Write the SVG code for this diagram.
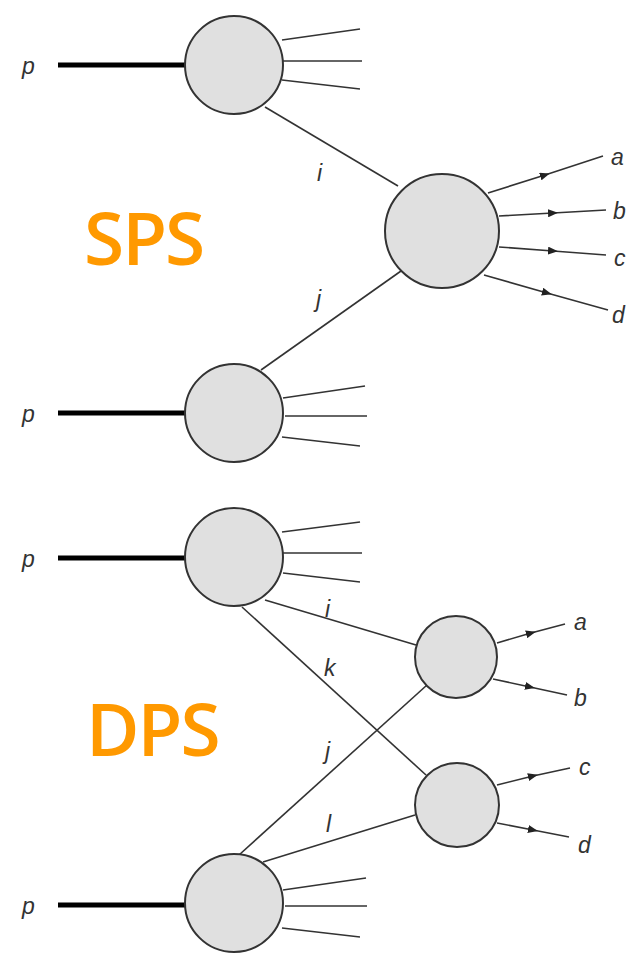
<svg xmlns="http://www.w3.org/2000/svg" width="629" height="953" viewBox="0 0 629 953">
<style>
.blob{fill:#e0e0e0;stroke:#333;stroke-width:2}
.beam{stroke:#000;stroke-width:5;fill:none}
.ln{stroke:#333;stroke-width:1.6;fill:none}
.arr{stroke:#333;stroke-width:1.6;fill:none;marker-mid:url(#ah)}
.lbl{font-family:"Liberation Sans",Arial,sans-serif;font-style:italic;font-size:23px;fill:#333}
.big{font-family:"Open Sans","Noto Sans",sans-serif;font-size:73px;font-weight:600;fill:#ff9900;letter-spacing:-2px}
</style>
<defs>
<marker id="ah" viewBox="0 0 10 8" refX="5" refY="4" markerWidth="10" markerHeight="8" markerUnits="userSpaceOnUse" orient="auto">
<path d="M0,0 L10,4 L0,8 Z" fill="#222"/>
</marker>
</defs>
<text class="big" x="84" y="265">SPS</text>
<text class="big" x="86" y="756">DPS</text>
<g id="connectors">
<line class="ln" x1="265" y1="107" x2="398" y2="186"/>
<line class="ln" x1="261" y1="370" x2="401" y2="271"/>
<polyline class="arr" points="488,193 545,175 603,156"/>
<polyline class="arr" points="499,216 553,213 606,210"/>
<polyline class="arr" points="499,247 553,251 606,255"/>
<polyline class="arr" points="484,275 547,293 608,310"/>
<line class="ln" x1="265" y1="600" x2="416" y2="645"/>
<line class="ln" x1="242" y1="607" x2="426" y2="775"/>
<line class="ln" x1="239" y1="855" x2="427" y2="685"/>
<line class="ln" x1="263" y1="862" x2="415" y2="815"/>
<polyline class="arr" points="497,643 531,633 565,624"/>
<polyline class="arr" points="493,679 530,687 567,695"/>
<polyline class="arr" points="497,785 533,776 570,768"/>
<polyline class="arr" points="497,823 533,830 569,837"/>
</g>
<text class="lbl" x="317" y="181">i</text>
<text class="lbl" x="316" y="307">j</text>
<text class="lbl" x="325" y="617">i</text>
<text class="lbl" x="324" y="676">k</text>
<text class="lbl" x="325" y="759">j</text>
<text class="lbl" x="326" y="832">l</text>
<text class="lbl" x="611" y="165">a</text>
<text class="lbl" x="613" y="219">b</text>
<text class="lbl" x="614" y="266">c</text>
<text class="lbl" x="612" y="323">d</text>
<text class="lbl" x="574" y="630">a</text>
<text class="lbl" x="574" y="706">b</text>
<text class="lbl" x="579" y="775">c</text>
<text class="lbl" x="578" y="853">d</text>
<g id="p1">
<text class="lbl" x="22" y="74">p</text>
<line class="beam" x1="58" y1="65" x2="186" y2="65"/>
<line class="ln" x1="282" y1="40" x2="360" y2="29"/>
<line class="ln" x1="283" y1="61" x2="362" y2="61"/>
<line class="ln" x1="282" y1="80" x2="360" y2="89"/>
<circle class="blob" cx="234" cy="65" r="49"/>
</g>
<g id="hard">
<circle class="blob" cx="442" cy="231" r="57"/>
</g>
<g id="p2">
<text class="lbl" x="22" y="422">p</text>
<line class="beam" x1="58" y1="413" x2="186" y2="413"/>
<line class="ln" x1="283" y1="398" x2="365" y2="386"/>
<line class="ln" x1="285" y1="416" x2="367" y2="416"/>
<line class="ln" x1="282" y1="437" x2="360" y2="446"/>
<circle class="blob" cx="234" cy="413" r="49"/>
</g>
<g id="p3">
<text class="lbl" x="22" y="567">p</text>
<line class="beam" x1="58" y1="558" x2="186" y2="558"/>
<line class="ln" x1="282" y1="532" x2="360" y2="522"/>
<line class="ln" x1="283" y1="553" x2="362" y2="553"/>
<line class="ln" x1="283" y1="573" x2="360" y2="582"/>
<circle class="blob" cx="234" cy="557" r="49"/>
</g>
<g id="hardA">
<circle class="blob" cx="456" cy="657" r="41"/>
</g>
<g id="hardB">
<circle class="blob" cx="457" cy="805" r="42"/>
</g>
<g id="p4">
<text class="lbl" x="22" y="914">p</text>
<line class="beam" x1="58" y1="905" x2="186" y2="905"/>
<line class="ln" x1="283" y1="890" x2="366" y2="878"/>
<line class="ln" x1="285" y1="906" x2="367" y2="906"/>
<line class="ln" x1="282" y1="928" x2="360" y2="937"/>
<circle class="blob" cx="234" cy="903" r="49"/>
</g>
</svg>
